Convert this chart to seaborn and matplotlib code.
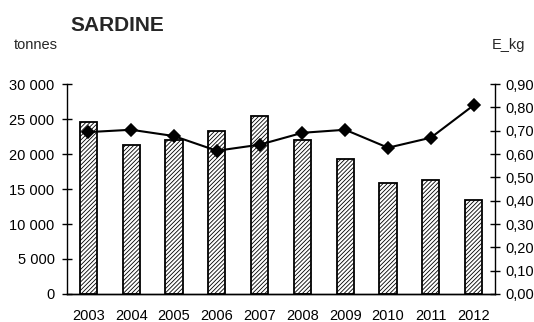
import numpy as np
import seaborn as sns
import matplotlib.pyplot as plt
from matplotlib.ticker import FixedLocator

sns.set_theme(style='white')
plt.rcParams['font.family'] = ['Liberation Sans', 'DejaVu Sans']
plt.rcParams['hatch.linewidth'] = 0.6

years = ['2003', '2004', '2005', '2006', '2007', '2008', '2009', '2010', '2011', '2012']
tonnes = [24600, 21300, 22000, 23300, 25400, 22000, 19300, 15800, 16300, 13500]
e_kg = [0.694, 0.704, 0.677, 0.614, 0.640, 0.691, 0.704, 0.627, 0.670, 0.809]
left_ticks = [0, 5000, 10000, 15000, 20000, 25000, 30000]
left_labels = ['0', '5 000', '10 000', '15 000', '20 000', '25 000', '30 000']
right_ticks = [0.0, 0.1, 0.2, 0.3, 0.4, 0.5, 0.6, 0.7, 0.8, 0.9]
right_labels = ['0,00', '0,10', '0,20', '0,30', '0,40', '0,50', '0,60', '0,70', '0,80', '0,90']

fig = plt.figure(figsize=(5.34, 3.22), dpi=100)
ax = fig.add_axes([0.1255, 0.087, 0.8015, 0.652])

sns.barplot(x=years, y=tonnes, color='white', edgecolor='black', linewidth=1.3,
            width=0.4, ax=ax)
for p in ax.patches:
    p.set_hatch('////////')
    p.set_facecolor('white')

ax2 = ax.twinx()
sns.pointplot(x=years, y=e_kg, color='black', markers='D', markersize=6,
              linewidth=1.5, ax=ax2)

ax.set_ylim(0, 30000)
ax2.set_ylim(0, 0.9)
ax.set_xlim(-0.5, len(years) - 0.5)

ax.set_yticks(left_ticks)
ax.set_yticklabels(left_labels)
ax2.set_yticks(right_ticks)
ax2.set_yticklabels(right_labels)

ax.xaxis.set_minor_locator(FixedLocator(np.arange(-0.5, len(years), 1.0)))
ax.tick_params(axis='x', which='major', length=0, pad=11, labelsize=10.5, colors='black')
ax.tick_params(axis='x', which='minor', length=7, direction='inout', width=1, color='black')
ax.tick_params(axis='y', length=7, direction='inout', width=1, labelsize=10.5, pad=5.5,
               colors='black', left=True)
ax2.tick_params(axis='y', length=7, direction='inout', width=1, labelsize=10.5, pad=4,
                colors='black', right=True)

for a in (ax, ax2):
    a.set_xlabel('')
    a.set_ylabel('')
    a.spines['top'].set_visible(False)
    for s in ('left', 'right', 'bottom'):
        a.spines[s].set_color('black')
        a.spines[s].set_linewidth(1)
ax.spines['right'].set_visible(False)
ax2.spines['left'].set_visible(False)

fig.text(0.131, 0.922, 'SARDINE', fontsize=15, fontweight='bold', ha='left', va='center')
fig.text(0.026, 0.86, 'tonnes', fontsize=10.5, ha='left', va='center')
fig.text(0.921, 0.86, 'E_kg', fontsize=10.5, ha='left', va='center')

fig.savefig('out.png', dpi=100)
